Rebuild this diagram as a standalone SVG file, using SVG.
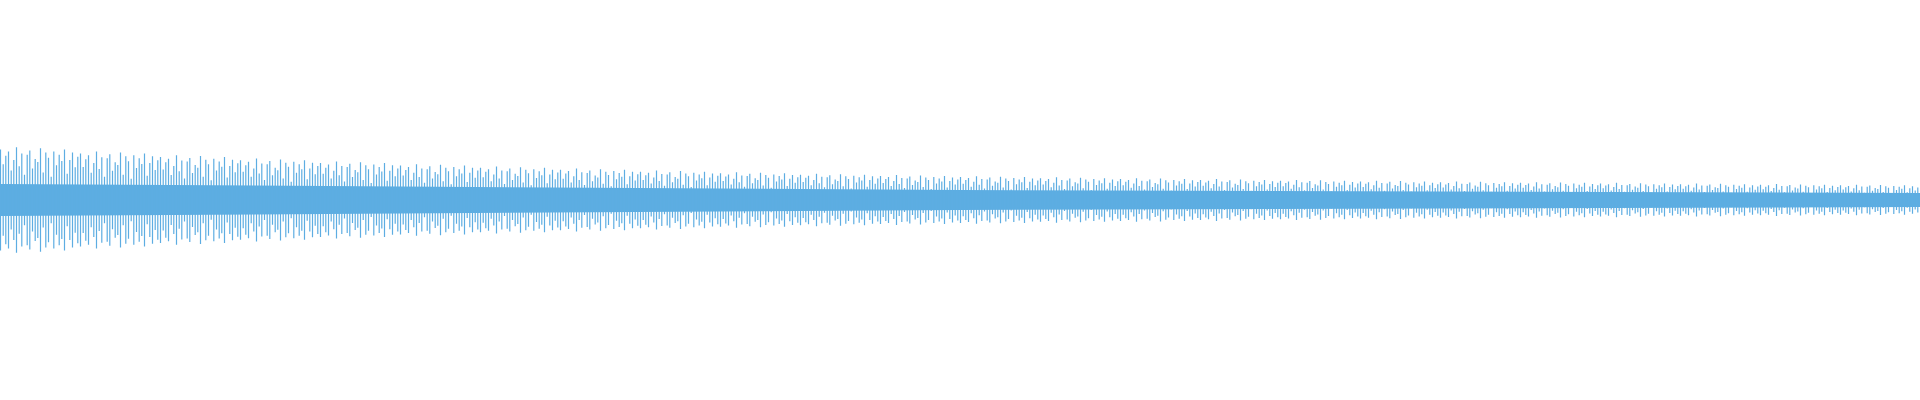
<svg xmlns="http://www.w3.org/2000/svg" width="1920" height="400" viewBox="0 0 1920 400">
<style>.w{stroke:#5dade2;stroke-width:1.2;fill:none}</style>
<defs>
<path id="b" class="w" d="M0.5 152V248M3.2 166V234M5.8 158V242M8.5 154V246M11.2 172V228M13.8 162V238M16.5 150V250M19.2 168V232M21.8 156V244M24.5 176V224M27.2 157V243M29.8 153V247M32.5 170V230M35.2 161V239M37.8 164V236M40.5 151V249M43.2 174V226M45.8 155V245M48.5 160V240M51.2 178V222M53.8 154V246M56.5 167V233M59.2 157V243M61.8 163V237M64.5 152V248M67.2 175V225M69.8 162V238M72.5 155V245M75.2 169V231M77.8 159V241"/>
</defs>
<rect width="1920" height="400" fill="#fff"/>
<g id="waveform">
<polygon points="0,184 960,190 1920,193 1920,207 960,210 0,216" fill="#5dade2"/>
<use href="#b" transform="translate(0 200) scale(1 1.054) translate(0 -200)"/>
<use href="#b" transform="translate(80 200) scale(1 0.971) translate(0 -200)"/>
<use href="#b" transform="translate(160 200) scale(1 0.896) translate(0 -200)"/>
<use href="#b" transform="translate(240 200) scale(1 0.829) translate(0 -200)"/>
<use href="#b" transform="translate(320 200) scale(1 0.770) translate(0 -200)"/>
<use href="#b" transform="translate(400 200) scale(1 0.717) translate(0 -200)"/>
<use href="#b" transform="translate(480 200) scale(1 0.670) translate(0 -200)"/>
<use href="#b" transform="translate(560 200) scale(1 0.628) translate(0 -200)"/>
<use href="#b" transform="translate(640 200) scale(1 0.591) translate(0 -200)"/>
<use href="#b" transform="translate(720 200) scale(1 0.557) translate(0 -200)"/>
<use href="#b" transform="translate(800 200) scale(1 0.527) translate(0 -200)"/>
<use href="#b" transform="translate(880 200) scale(1 0.500) translate(0 -200)"/>
<use href="#b" transform="translate(960 200) scale(1 0.477) translate(0 -200)"/>
<use href="#b" transform="translate(1040 200) scale(1 0.455) translate(0 -200)"/>
<use href="#b" transform="translate(1120 200) scale(1 0.437) translate(0 -200)"/>
<use href="#b" transform="translate(1200 200) scale(1 0.419) translate(0 -200)"/>
<use href="#b" transform="translate(1280 200) scale(1 0.402) translate(0 -200)"/>
<use href="#b" transform="translate(1360 200) scale(1 0.386) translate(0 -200)"/>
<use href="#b" transform="translate(1440 200) scale(1 0.371) translate(0 -200)"/>
<use href="#b" transform="translate(1520 200) scale(1 0.357) translate(0 -200)"/>
<use href="#b" transform="translate(1600 200) scale(1 0.343) translate(0 -200)"/>
<use href="#b" transform="translate(1680 200) scale(1 0.330) translate(0 -200)"/>
<use href="#b" transform="translate(1760 200) scale(1 0.318) translate(0 -200)"/>
<use href="#b" transform="translate(1840 200) scale(1 0.306) translate(0 -200)"/>
</g>
</svg>
